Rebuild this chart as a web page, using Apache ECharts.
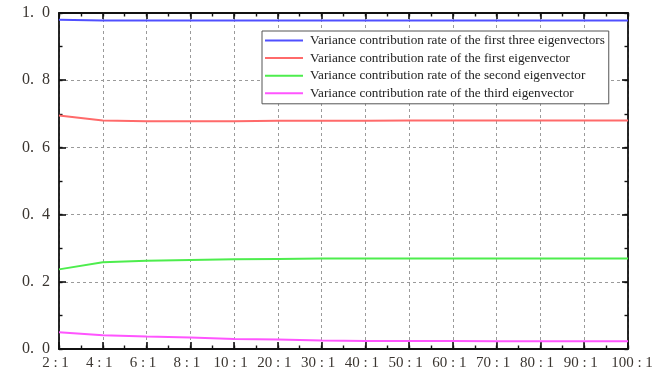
<!DOCTYPE html>
<html>
<head>
<meta charset="utf-8">
<script src="https://cdn.jsdelivr.net/npm/echarts@6/dist/echarts.min.js"></script>
<style>
html, body { margin: 0; padding: 0; background: #fff; }
#chart { width: 672px; height: 377px; }
</style>
</head>
<body>
<div id="chart"></div>
<script>
// Sample ratio categories along the x axis
const ratios = ['2:1', '4:1', '6:1', '8:1', '10:1', '20:1', '30:1', '40:1', '50:1', '60:1', '70:1', '80:1', '90:1', '100:1'];

// Variance contribution rates per ratio
const firstThree = [0.980, 0.978, 0.978, 0.978, 0.978, 0.978, 0.978, 0.978, 0.978, 0.978, 0.978, 0.978, 0.978, 0.978];
const firstVec   = [0.695, 0.680, 0.678, 0.678, 0.678, 0.679, 0.679, 0.679, 0.680, 0.680, 0.680, 0.680, 0.680, 0.680];
const secondVec  = [0.237, 0.258, 0.263, 0.265, 0.267, 0.268, 0.269, 0.269, 0.269, 0.269, 0.269, 0.269, 0.269, 0.269];
const thirdVec   = [0.050, 0.041, 0.037, 0.034, 0.030, 0.028, 0.025, 0.024, 0.024, 0.024, 0.023, 0.023, 0.023, 0.023];

const seriesNames = [
  'Variance contribution rate of the first three eigenvectors',
  'Variance contribution rate of the first eigenvector',
  'Variance contribution rate of the second eigenvector',
  'Variance contribution rate of the third eigenvector'
];
const seriesValues = [firstThree, firstVec, secondVec, thirdVec];
const seriesColors = ['#5050ff', '#ff6a6a', '#4ded4d', '#ff55ff'];

const chart = echarts.init(document.getElementById('chart'));

const serifFont = '"Liberation Serif", "DejaVu Serif", serif';
const ink = '#111';
const labelInk = '#3a3530';
const grid = { show: true, lineStyle: { color: '#9a9a9a', width: 1, type: [3, 3] } };
const noLabel = { show: false };
const noSplit = { show: false };

// One frame side: a major-tick axis plus a half-step axis that only carries short ticks
function frameAxes(base, position, majorLen, extra) {
  const major = Object.assign({}, base, {
    position,
    axisLine: { show: true, onZero: false, lineStyle: { color: ink, width: 1.8 } },
    axisTick: { show: true, inside: true, length: majorLen, lineStyle: { color: ink, width: 1.6 } },
    splitLine: noSplit,
    axisLabel: noLabel
  }, extra || {});
  const minor = Object.assign({}, base, {
    position,
    interval: base.interval / 2,
    axisLine: { show: false, onZero: false },
    axisTick: { show: true, inside: true, length: 3.5, lineStyle: { color: ink, width: 1.4 } },
    splitLine: noSplit,
    axisLabel: noLabel
  });
  return [major, minor];
}

const xBase = { type: 'value', min: 0, max: ratios.length - 1, interval: 1 };
const yBase = { type: 'value', min: 0, max: 1, interval: 0.2 };

const ratioText = { fontFamily: serifFont, fontSize: 15, color: labelInk };

const xAxes = [
  ...frameAxes(xBase, 'bottom', 7, {
    splitLine: grid,
    axisLabel: {
      show: true, margin: 7,
      formatter: v => {
        const i = Math.round(v);
        const text = (ratios[i] || '').replace(':', ' : ');
        return i === ratios.length - 1 ? '{end|' + text + '}' : '{mid|' + text + '}';
      },
      rich: {
        mid: Object.assign({ padding: [0, 7, 0, 0] }, ratioText),
        end: Object.assign({ padding: [0, 0, 0, 8] }, ratioText)
      }
    }
  }),
  ...frameAxes(xBase, 'top', 6)
];
const yAxes = [
  ...frameAxes(yBase, 'left', 7, {
    splitLine: grid,
    axisLabel: {
      show: true, margin: 9,
      fontFamily: serifFont, fontSize: 16, color: labelInk,
      formatter: v => v.toFixed(1).replace('.', '.\u2002')
    }
  }),
  ...frameAxes(yBase, 'right', 6)
];

chart.setOption({
  animation: false,
  backgroundColor: '#fff',
  grid: { left: 59, right: 44, top: 13, bottom: 28 },
  legend: {
    orient: 'vertical',
    left: 262,
    top: 31,
    icon: 'rect',
    itemWidth: 38,
    itemHeight: 2,
    itemGap: 0.6,
    padding: [1, 4, 2, 3],
    backgroundColor: '#fff',
    borderColor: '#555',
    borderWidth: 1,
    textStyle: { fontFamily: serifFont, fontSize: 13.2, color: '#222', lineHeight: 17, padding: [0, 0, 0, 2] },
    data: seriesNames
  },
  xAxis: xAxes,
  yAxis: yAxes,
  series: seriesNames.map((name, k) => ({
    name,
    type: 'line',
    xAxisIndex: 0,
    yAxisIndex: 0,
    symbol: 'none',
    color: seriesColors[k],
    lineStyle: { width: 2, color: seriesColors[k] },
    data: seriesValues[k].map((v, i) => [i, v])
  }))
});
</script>
</body>
</html>
